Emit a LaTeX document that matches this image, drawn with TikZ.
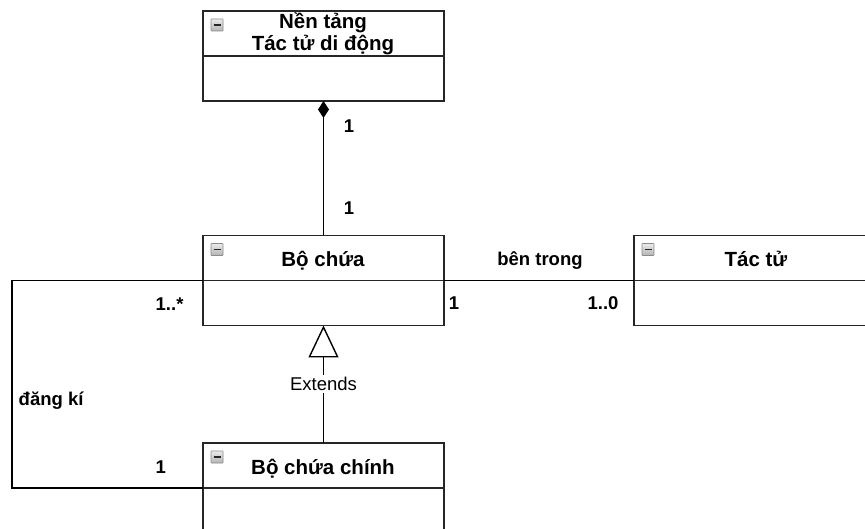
\documentclass[tikz,border=0pt]{standalone}
\usepackage{fontspec}
\setmainfont{Liberation Sans}
\usetikzlibrary{arrows.meta}

\begin{document}
\begin{tikzpicture}[x=1pt,y=-1pt,
  line width=1.4pt,
  classbox/.style={draw=black!85, line width=1.5pt, minimum width=241pt, minimum height=90pt,
    inner sep=0pt, outer sep=0pt},
  classname/.style={font=\fontsize{20.5}{22}\selectfont\bfseries, inner sep=0pt, anchor=base},
  lbl/.style={font=\fontsize{18.5}{20}\selectfont\bfseries, inner sep=0pt, anchor=base},
  minusicon/.style={draw=black!45, line width=0.6pt, top color=black!8, bottom color=black!30,
    minimum width=12pt, minimum height=12pt, inner sep=0pt, rounded corners=0.5pt,
    path picture={\draw[line width=1.8pt, black!85]
      ([xshift=2.5pt]path picture bounding box.west) -- ([xshift=-2.5pt]path picture bounding box.east);}},
]
\useasboundingbox[fill=white] (0,0) rectangle (865,529);
\clip (0,0) rectangle (865,529);

% class boxes (the divider runs through the middle of each box)
\node[classbox] (platform) at (323.5,56) {};
\node[classbox] (container) at (323.5,280.5) {};
\node[classbox] (agent) at (754.5,280.5) {};
\node[classbox] (maincont) at (323.5,488) {};
\foreach \b in {platform,container,agent,maincont}{
  \draw[line width=1.5pt, black!85] (\b.west) -- (\b.east);
  \node[minusicon] at ([xshift=14pt,yshift=-14pt]\b.north west) {};
}

% class names
\node[classname] (platformname1) at (323,29) {Nền tảng};
\node[classname] (platformname2) at (323,51) {Tác tử di động};
\node[classname] (containername) at (323,267) {Bộ chứa};
\node[classname] (agentname) at (756,267) {Tác tử};
\node[classname] (maincontname) at (323,474) {Bộ chứa chính};

% composition: platform owns the container
\draw[-{Diamond[length=17pt,width=11pt]}] (container.north) -- (platform.south);
\node[lbl] (m1) at (349,133) {1};
\node[lbl] (m2) at (349,215) {1};

% association: container holds agents
\draw (container.east) -- (agent.west);
\node[lbl] (inside) at (540,266) {bên trong};
\node[lbl] (m3) at (454,310) {1};
\node[lbl] (m4) at (603,310) {1..0};

% association: registration with the main container
\draw (container.west) -- ++(-191,0) |- (maincont.west);
\node[lbl, anchor=base west] (reg) at (18,405) {đăng kí};
\node[lbl, anchor=base west] (m5) at (155,311) {1..*};
\node[lbl, anchor=base west] (m6) at (155,473) {1};

% generalization
\draw[-{Triangle[open,length=32pt,width=30pt,line width=1.4pt]}] (maincont.north) -- (container.south)
  node[midway, fill=white, inner sep=2pt, font=\fontsize{18.5}{20}\selectfont] (ext) {Extends};
\end{tikzpicture}
\end{document}
